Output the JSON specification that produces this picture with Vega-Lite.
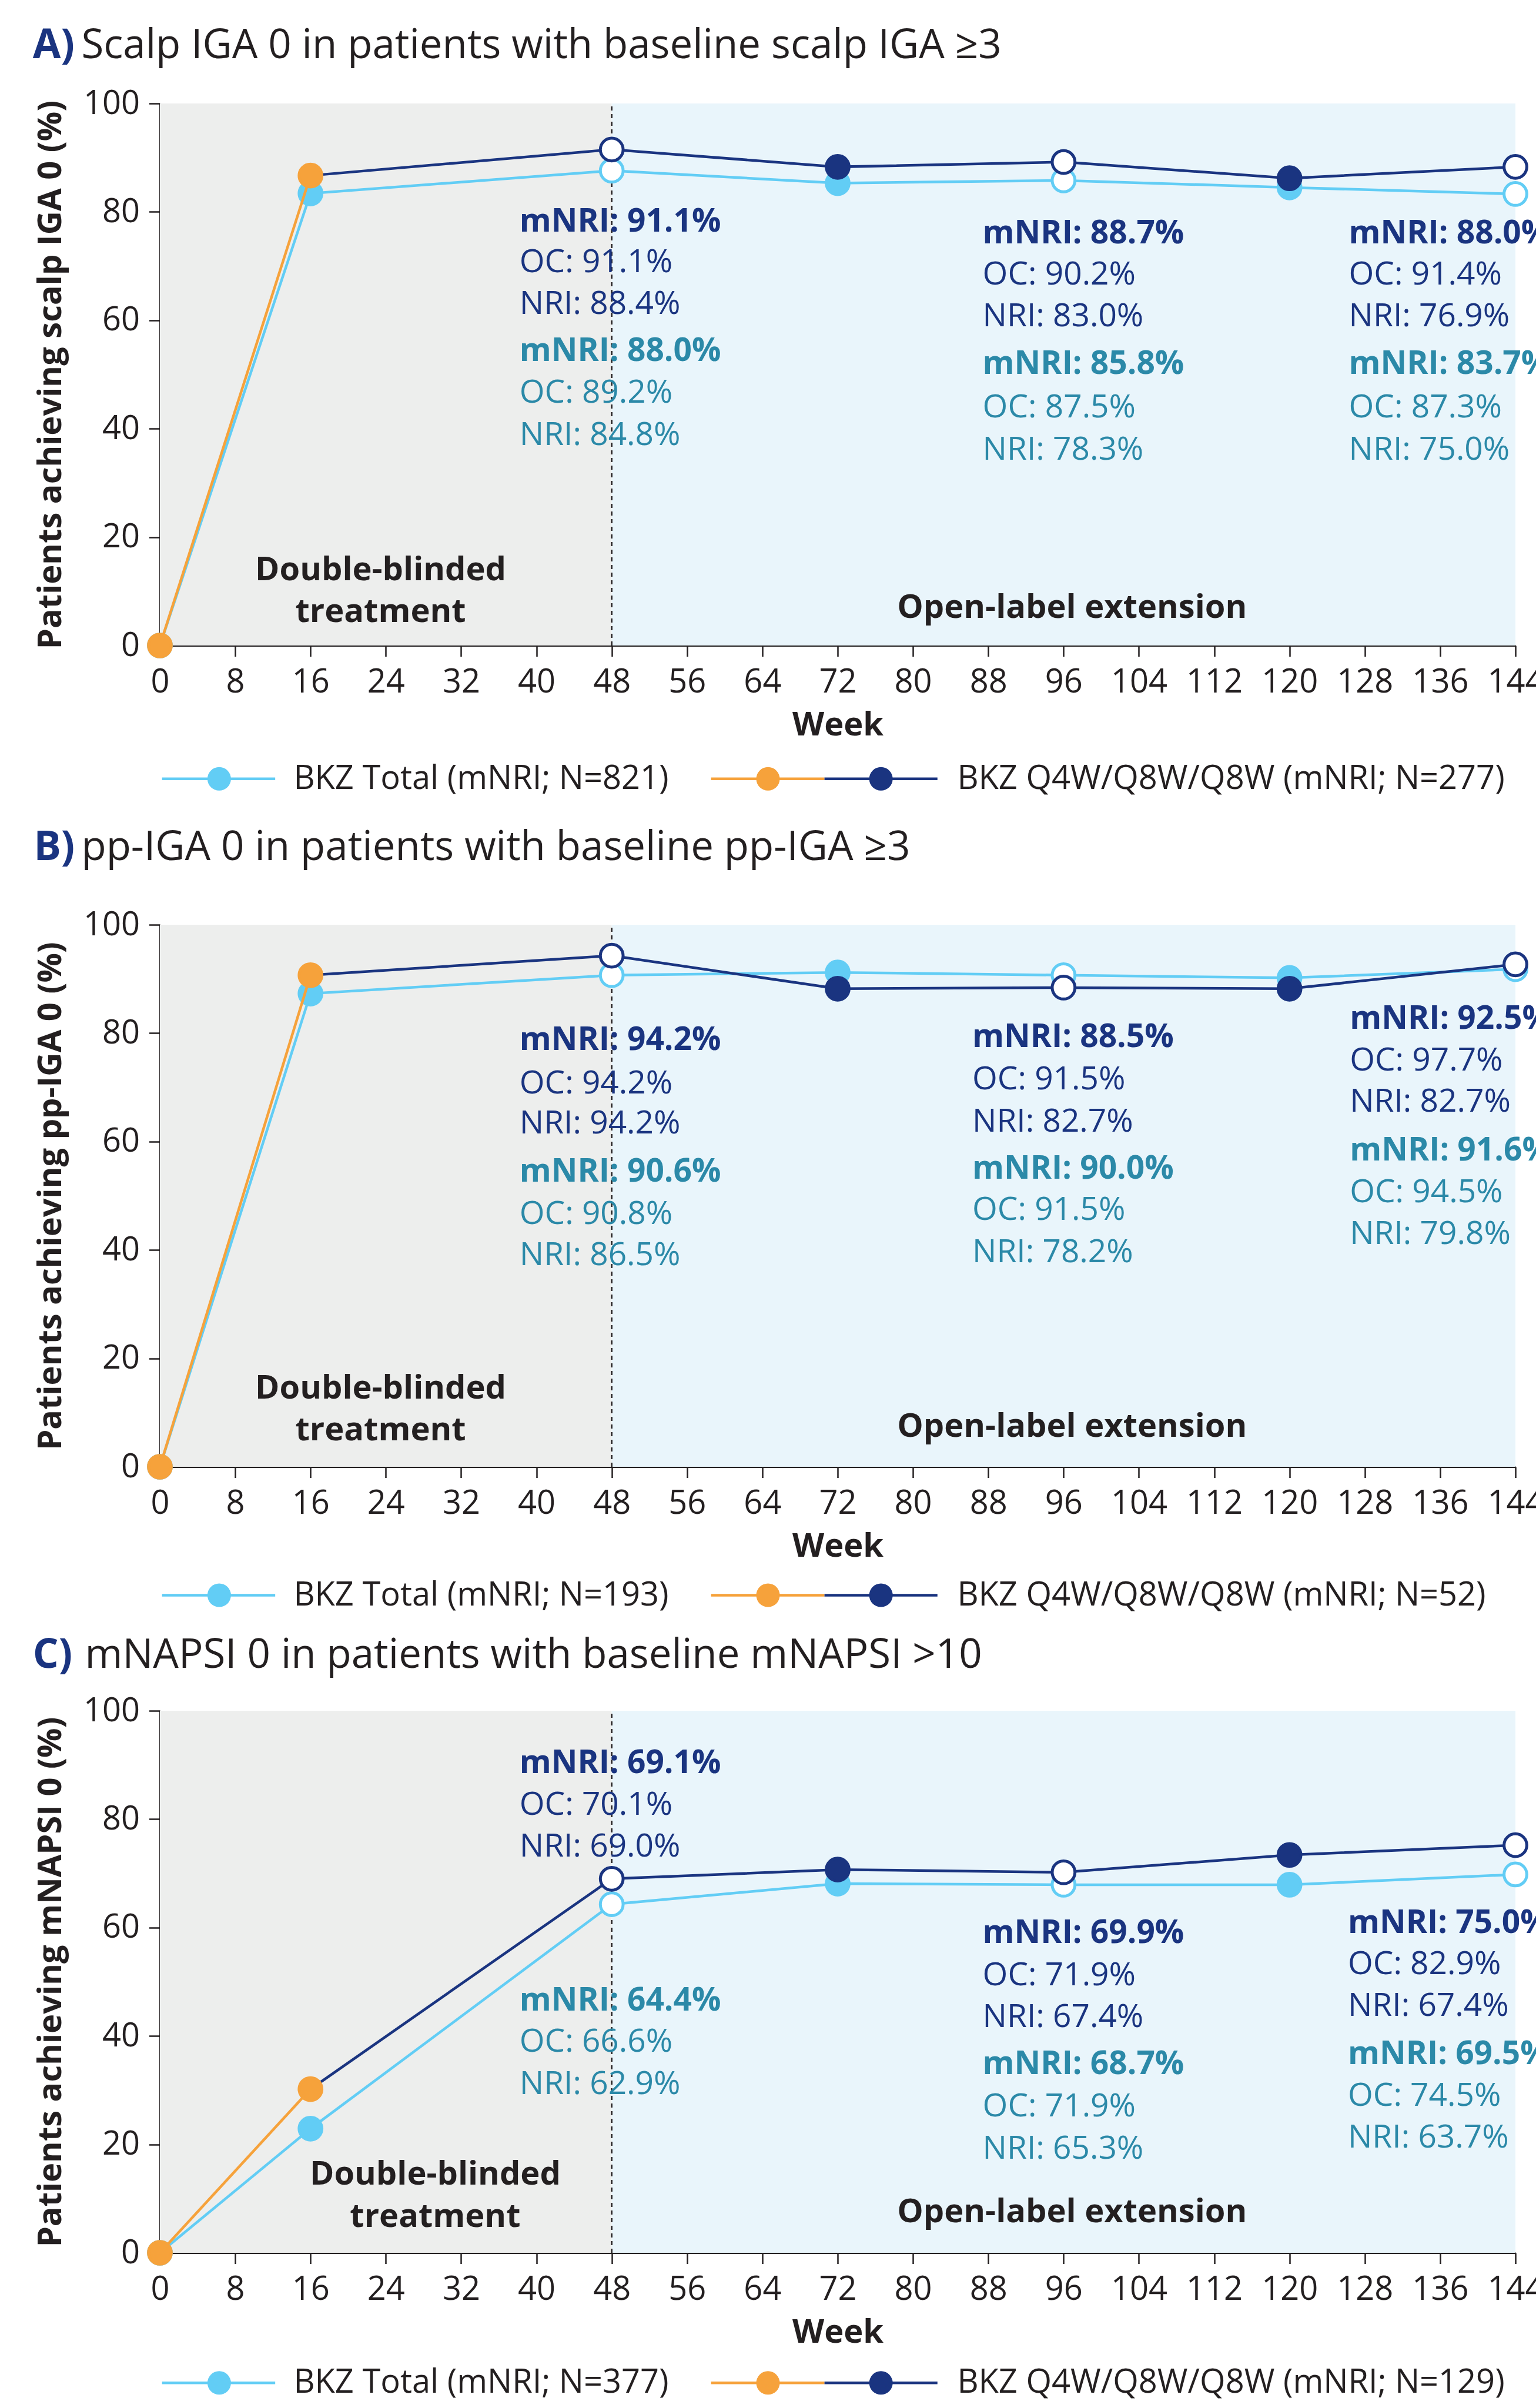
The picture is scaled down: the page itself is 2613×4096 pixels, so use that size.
{
  "$schema": "https://vega.github.io/schema/vega-lite/v6.json",
  "padding": {"left": 55, "top": 44, "right": 0, "bottom": 0},
  "background": "white",
  "bounds": "flush",
  "spacing": 0,
  "config": {
    "view": {"stroke": null},
    "font": "Open Sans",
    "axis": {"domainColor": "#231f20", "domainWidth": 2.8, "tickColor": "#231f20", "tickWidth": 2.5, "tickSize": 18.5, "labelColor": "#231f20", "labelFontSize": 56, "labelFont": "Open Sans", "titleFont": "Open Sans", "titleFontSize": 56, "titleFontWeight": "bold", "titleColor": "#231f20", "grid": false, "zindex": 1, "labelFlush": false, "labelOverlap": false, "labelBound": false},
    "axisX": {"labelPadding": 17, "titlePadding": 18, "labelAngle": 0},
    "axisY": {"labelPadding": 16, "titlePadding": 26}
  },
  "datasets": {
    "series": [
      {"panel": "A", "grp": "Total", "week": 0, "pct": 0, "status": "plain"},
      {"panel": "A", "grp": "Total", "week": 16, "pct": 83.4, "status": "plain"},
      {"panel": "A", "grp": "Total", "week": 48, "pct": 87.6, "status": "annotated"},
      {"panel": "A", "grp": "Total", "week": 72, "pct": 85.3, "status": "plain"},
      {"panel": "A", "grp": "Total", "week": 96, "pct": 85.8, "status": "annotated"},
      {"panel": "A", "grp": "Total", "week": 120, "pct": 84.5, "status": "plain"},
      {"panel": "A", "grp": "Total", "week": 144, "pct": 83.3, "status": "annotated"},
      {"panel": "A", "grp": "Q4W", "week": 0, "pct": 0, "status": "double-blind"},
      {"panel": "A", "grp": "Q4W", "week": 16, "pct": 86.7, "status": "double-blind"},
      {"panel": "A", "grp": "Q4W", "week": 48, "pct": 91.5, "status": "annotated"},
      {"panel": "A", "grp": "Q4W", "week": 72, "pct": 88.3, "status": "plain"},
      {"panel": "A", "grp": "Q4W", "week": 96, "pct": 89.2, "status": "annotated"},
      {"panel": "A", "grp": "Q4W", "week": 120, "pct": 86.2, "status": "plain"},
      {"panel": "A", "grp": "Q4W", "week": 144, "pct": 88.3, "status": "annotated"},
      {"panel": "B", "grp": "Total", "week": 0, "pct": 0, "status": "plain"},
      {"panel": "B", "grp": "Total", "week": 16, "pct": 87.3, "status": "plain"},
      {"panel": "B", "grp": "Total", "week": 48, "pct": 90.7, "status": "annotated"},
      {"panel": "B", "grp": "Total", "week": 72, "pct": 91.2, "status": "plain"},
      {"panel": "B", "grp": "Total", "week": 96, "pct": 90.7, "status": "annotated"},
      {"panel": "B", "grp": "Total", "week": 120, "pct": 90.2, "status": "plain"},
      {"panel": "B", "grp": "Total", "week": 144, "pct": 91.8, "status": "annotated"},
      {"panel": "B", "grp": "Q4W", "week": 0, "pct": 0, "status": "double-blind"},
      {"panel": "B", "grp": "Q4W", "week": 16, "pct": 90.7, "status": "double-blind"},
      {"panel": "B", "grp": "Q4W", "week": 48, "pct": 94.3, "status": "annotated"},
      {"panel": "B", "grp": "Q4W", "week": 72, "pct": 88.2, "status": "plain"},
      {"panel": "B", "grp": "Q4W", "week": 96, "pct": 88.4, "status": "annotated"},
      {"panel": "B", "grp": "Q4W", "week": 120, "pct": 88.2, "status": "plain"},
      {"panel": "B", "grp": "Q4W", "week": 144, "pct": 92.7, "status": "annotated"},
      {"panel": "C", "grp": "Total", "week": 0, "pct": 0, "status": "plain"},
      {"panel": "C", "grp": "Total", "week": 16, "pct": 22.9, "status": "plain"},
      {"panel": "C", "grp": "Total", "week": 48, "pct": 64.3, "status": "annotated"},
      {"panel": "C", "grp": "Total", "week": 72, "pct": 68.1, "status": "plain"},
      {"panel": "C", "grp": "Total", "week": 96, "pct": 67.9, "status": "annotated"},
      {"panel": "C", "grp": "Total", "week": 120, "pct": 67.9, "status": "plain"},
      {"panel": "C", "grp": "Total", "week": 144, "pct": 69.8, "status": "annotated"},
      {"panel": "C", "grp": "Q4W", "week": 0, "pct": 0, "status": "double-blind"},
      {"panel": "C", "grp": "Q4W", "week": 16, "pct": 30.2, "status": "double-blind"},
      {"panel": "C", "grp": "Q4W", "week": 48, "pct": 69.0, "status": "annotated"},
      {"panel": "C", "grp": "Q4W", "week": 72, "pct": 70.7, "status": "plain"},
      {"panel": "C", "grp": "Q4W", "week": 96, "pct": 70.2, "status": "annotated"},
      {"panel": "C", "grp": "Q4W", "week": 120, "pct": 73.4, "status": "plain"},
      {"panel": "C", "grp": "Q4W", "week": 144, "pct": 75.2, "status": "annotated"}
    ],
    "phases": [
      {"start": 0, "end": 48, "phase": "Double-blinded treatment"},
      {"start": 48, "end": 144, "phase": "Open-label extension"}
    ],
    "notes": [
      {"panel": "A", "grp": "Q4W", "kind": "mNRI", "text": "mNRI: 91.1%", "labelWeek": 38.2, "labelPct": 78.2},
      {"panel": "A", "grp": "Q4W", "kind": "OC", "text": "OC: 91.1%", "labelWeek": 38.2, "labelPct": 70.7},
      {"panel": "A", "grp": "Q4W", "kind": "NRI", "text": "NRI: 88.4%", "labelWeek": 38.2, "labelPct": 63.0},
      {"panel": "A", "grp": "Total", "kind": "mNRI", "text": "mNRI: 88.0%", "labelWeek": 38.2, "labelPct": 54.3},
      {"panel": "A", "grp": "Total", "kind": "OC", "text": "OC: 89.2%", "labelWeek": 38.2, "labelPct": 46.6},
      {"panel": "A", "grp": "Total", "kind": "NRI", "text": "NRI: 84.8%", "labelWeek": 38.2, "labelPct": 38.8},
      {"panel": "A", "grp": "Q4W", "kind": "mNRI", "text": "mNRI: 88.7%", "labelWeek": 87.4, "labelPct": 76.0},
      {"panel": "A", "grp": "Q4W", "kind": "OC", "text": "OC: 90.2%", "labelWeek": 87.4, "labelPct": 68.4},
      {"panel": "A", "grp": "Q4W", "kind": "NRI", "text": "NRI: 83.0%", "labelWeek": 87.4, "labelPct": 60.7},
      {"panel": "A", "grp": "Total", "kind": "mNRI", "text": "mNRI: 85.8%", "labelWeek": 87.4, "labelPct": 51.9},
      {"panel": "A", "grp": "Total", "kind": "OC", "text": "OC: 87.5%", "labelWeek": 87.4, "labelPct": 43.9},
      {"panel": "A", "grp": "Total", "kind": "NRI", "text": "NRI: 78.3%", "labelWeek": 87.4, "labelPct": 36.1},
      {"panel": "A", "grp": "Q4W", "kind": "mNRI", "text": "mNRI: 88.0%", "labelWeek": 126.3, "labelPct": 76.0},
      {"panel": "A", "grp": "Q4W", "kind": "OC", "text": "OC: 91.4%", "labelWeek": 126.3, "labelPct": 68.4},
      {"panel": "A", "grp": "Q4W", "kind": "NRI", "text": "NRI: 76.9%", "labelWeek": 126.3, "labelPct": 60.7},
      {"panel": "A", "grp": "Total", "kind": "mNRI", "text": "mNRI: 83.7%", "labelWeek": 126.3, "labelPct": 51.9},
      {"panel": "A", "grp": "Total", "kind": "OC", "text": "OC: 87.3%", "labelWeek": 126.3, "labelPct": 43.9},
      {"panel": "A", "grp": "Total", "kind": "NRI", "text": "NRI: 75.0%", "labelWeek": 126.3, "labelPct": 36.1},
      {"panel": "B", "grp": "Q4W", "kind": "mNRI", "text": "mNRI: 94.2%", "labelWeek": 38.2, "labelPct": 78.7},
      {"panel": "B", "grp": "Q4W", "kind": "OC", "text": "OC: 94.2%", "labelWeek": 38.2, "labelPct": 70.7},
      {"panel": "B", "grp": "Q4W", "kind": "NRI", "text": "NRI: 94.2%", "labelWeek": 38.2, "labelPct": 63.3},
      {"panel": "B", "grp": "Total", "kind": "mNRI", "text": "mNRI: 90.6%", "labelWeek": 38.2, "labelPct": 54.4},
      {"panel": "B", "grp": "Total", "kind": "OC", "text": "OC: 90.8%", "labelWeek": 38.2, "labelPct": 46.6},
      {"panel": "B", "grp": "Total", "kind": "NRI", "text": "NRI: 86.5%", "labelWeek": 38.2, "labelPct": 39.0},
      {"panel": "B", "grp": "Q4W", "kind": "mNRI", "text": "mNRI: 88.5%", "labelWeek": 86.3, "labelPct": 79.3},
      {"panel": "B", "grp": "Q4W", "kind": "OC", "text": "OC: 91.5%", "labelWeek": 86.3, "labelPct": 71.5},
      {"panel": "B", "grp": "Q4W", "kind": "NRI", "text": "NRI: 82.7%", "labelWeek": 86.3, "labelPct": 63.7},
      {"panel": "B", "grp": "Total", "kind": "mNRI", "text": "mNRI: 90.0%", "labelWeek": 86.3, "labelPct": 55.0},
      {"panel": "B", "grp": "Total", "kind": "OC", "text": "OC: 91.5%", "labelWeek": 86.3, "labelPct": 47.4},
      {"panel": "B", "grp": "Total", "kind": "NRI", "text": "NRI: 78.2%", "labelWeek": 86.3, "labelPct": 39.6},
      {"panel": "B", "grp": "Q4W", "kind": "mNRI", "text": "mNRI: 92.5%", "labelWeek": 126.4, "labelPct": 82.7},
      {"panel": "B", "grp": "Q4W", "kind": "OC", "text": "OC: 97.7%", "labelWeek": 126.4, "labelPct": 74.9},
      {"panel": "B", "grp": "Q4W", "kind": "NRI", "text": "NRI: 82.7%", "labelWeek": 126.4, "labelPct": 67.3},
      {"panel": "B", "grp": "Total", "kind": "mNRI", "text": "mNRI: 91.6%", "labelWeek": 126.4, "labelPct": 58.4},
      {"panel": "B", "grp": "Total", "kind": "OC", "text": "OC: 94.5%", "labelWeek": 126.4, "labelPct": 50.7},
      {"panel": "B", "grp": "Total", "kind": "NRI", "text": "NRI: 79.8%", "labelWeek": 126.4, "labelPct": 43.0},
      {"panel": "C", "grp": "Q4W", "kind": "mNRI", "text": "mNRI: 69.1%", "labelWeek": 38.2, "labelPct": 90.3},
      {"panel": "C", "grp": "Q4W", "kind": "OC", "text": "OC: 70.1%", "labelWeek": 38.2, "labelPct": 82.6},
      {"panel": "C", "grp": "Q4W", "kind": "NRI", "text": "NRI: 69.0%", "labelWeek": 38.2, "labelPct": 74.9},
      {"panel": "C", "grp": "Total", "kind": "mNRI", "text": "mNRI: 64.4%", "labelWeek": 38.2, "labelPct": 46.5},
      {"panel": "C", "grp": "Total", "kind": "OC", "text": "OC: 66.6%", "labelWeek": 38.2, "labelPct": 38.9},
      {"panel": "C", "grp": "Total", "kind": "NRI", "text": "NRI: 62.9%", "labelWeek": 38.2, "labelPct": 31.1},
      {"panel": "C", "grp": "Q4W", "kind": "mNRI", "text": "mNRI: 69.9%", "labelWeek": 87.4, "labelPct": 59.0},
      {"panel": "C", "grp": "Q4W", "kind": "OC", "text": "OC: 71.9%", "labelWeek": 87.4, "labelPct": 51.2},
      {"panel": "C", "grp": "Q4W", "kind": "NRI", "text": "NRI: 67.4%", "labelWeek": 87.4, "labelPct": 43.5},
      {"panel": "C", "grp": "Total", "kind": "mNRI", "text": "mNRI: 68.7%", "labelWeek": 87.4, "labelPct": 34.8},
      {"panel": "C", "grp": "Total", "kind": "OC", "text": "OC: 71.9%", "labelWeek": 87.4, "labelPct": 27.0},
      {"panel": "C", "grp": "Total", "kind": "NRI", "text": "NRI: 65.3%", "labelWeek": 87.4, "labelPct": 19.2},
      {"panel": "C", "grp": "Q4W", "kind": "mNRI", "text": "mNRI: 75.0%", "labelWeek": 126.2, "labelPct": 60.9},
      {"panel": "C", "grp": "Q4W", "kind": "OC", "text": "OC: 82.9%", "labelWeek": 126.2, "labelPct": 53.2},
      {"panel": "C", "grp": "Q4W", "kind": "NRI", "text": "NRI: 67.4%", "labelWeek": 126.2, "labelPct": 45.5},
      {"panel": "C", "grp": "Total", "kind": "mNRI", "text": "mNRI: 69.5%", "labelWeek": 126.2, "labelPct": 36.7},
      {"panel": "C", "grp": "Total", "kind": "OC", "text": "OC: 74.5%", "labelWeek": 126.2, "labelPct": 29.0},
      {"panel": "C", "grp": "Total", "kind": "NRI", "text": "NRI: 63.7%", "labelWeek": 126.2, "labelPct": 21.3}
    ],
    "phaseLabels": [
      {"panel": "A", "text": "Double-blinded", "labelWeek": 23.45, "labelPct": 13.9},
      {"panel": "A", "text": "treatment", "labelWeek": 23.45, "labelPct": 6.2},
      {"panel": "A", "text": "Open-label extension", "labelWeek": 96.9, "labelPct": 6.9},
      {"panel": "B", "text": "Double-blinded", "labelWeek": 23.45, "labelPct": 14.4},
      {"panel": "B", "text": "treatment", "labelWeek": 23.45, "labelPct": 6.7},
      {"panel": "B", "text": "Open-label extension", "labelWeek": 96.9, "labelPct": 7.4},
      {"panel": "C", "text": "Double-blinded", "labelWeek": 29.25, "labelPct": 14.4},
      {"panel": "C", "text": "treatment", "labelWeek": 29.25, "labelPct": 6.6},
      {"panel": "C", "text": "Open-label extension", "labelWeek": 96.9, "labelPct": 7.5}
    ],
    "titles": [
      {"panel": "A", "letter": "A)", "heading": "Scalp IGA 0 in patients with baseline scalp IGA ≥3"},
      {"panel": "B", "letter": "B)", "heading": "pp-IGA 0 in patients with baseline pp-IGA ≥3"},
      {"panel": "C", "letter": "C)", "heading": "mNAPSI 0 in patients with baseline mNAPSI >10"}
    ],
    "legend": [
      {"panel": "A", "grp": "Total", "label": "BKZ Total (mNRI; N=821)"},
      {"panel": "A", "grp": "Q4W", "label": "BKZ Q4W/Q8W/Q8W (mNRI; N=277)"},
      {"panel": "B", "grp": "Total", "label": "BKZ Total (mNRI; N=193)"},
      {"panel": "B", "grp": "Q4W", "label": "BKZ Q4W/Q8W/Q8W (mNRI; N=52)"},
      {"panel": "C", "grp": "Total", "label": "BKZ Total (mNRI; N=377)"},
      {"panel": "C", "grp": "Q4W", "label": "BKZ Q4W/Q8W/Q8W (mNRI; N=129)"}
    ]
  },
  "vconcat": [
    {
      "width": 2306, "height": 922,
      "layer": [
        {"data": {"name": "phases"}, "mark": {"type": "rect"},
         "encoding": {"x": {"field": "start", "type": "quantitative"}, "x2": {"field": "end"}, "y": {"datum": 0}, "y2": {"datum": 100},
          "fill": {"condition": {"test": "datum.phase === 'Double-blinded treatment'", "value": "#edeeed"}, "value": "#e9f5fb"}}},
        {"data": {"name": "phases"}, "transform": [{"filter": "datum.phase === 'Open-label extension'"}], "mark": {"type": "rule", "color": "#231f20", "strokeWidth": 2.5, "strokeDash": [7, 6]},
         "encoding": {"x": {"field": "start", "type": "quantitative"}, "y": {"datum": 0}, "y2": {"datum": 100}}},
        {"data": {"name": "series"}, "transform": [{"filter": "datum.panel === 'A' && datum.grp === 'Total'"}], "mark": {"type": "line", "color": "#62cdf5", "strokeWidth": 4.5},
         "encoding": {
           "x": {"field": "week", "type": "quantitative", "scale": {"domain": [0, 144], "nice": false, "zero": false}, "axis": {"title": "Week", "values": [0, 8, 16, 24, 32, 40, 48, 56, 64, 72, 80, 88, 96, 104, 112, 120, 128, 136, 144]}},
           "y": {"field": "pct", "type": "quantitative", "scale": {"domain": [0, 100], "nice": false}, "axis": {"title": "Patients achieving scalp IGA 0 (%)", "values": [0, 20, 40, 60, 80, 100]}},
           "order": {"field": "week"}}},
        {"data": {"name": "series"}, "transform": [{"filter": "datum.panel === 'A' && datum.grp === 'Total'"}], "mark": {"type": "point", "shape": "circle", "filled": true, "size": 1500, "strokeWidth": 5, "opacity": 1},
         "encoding": {"x": {"field": "week", "type": "quantitative"}, "y": {"field": "pct", "type": "quantitative"},
          "fill": {"condition": {"test": "datum.status === 'annotated'", "value": "#ffffff"}, "value": "#62cdf5"}, "stroke": {"value": "#62cdf5"}}},
        {"data": {"name": "series"}, "transform": [{"filter": "datum.panel === 'A' && datum.grp === 'Q4W' && datum.week <= 16"}], "mark": {"type": "line", "color": "#f6a23b", "strokeWidth": 4.5},
         "encoding": {"x": {"field": "week", "type": "quantitative"}, "y": {"field": "pct", "type": "quantitative"}, "order": {"field": "week"}}},
        {"data": {"name": "series"}, "transform": [{"filter": "datum.panel === 'A' && datum.grp === 'Q4W' && datum.week >= 16"}], "mark": {"type": "line", "color": "#1a3480", "strokeWidth": 4.5},
         "encoding": {"x": {"field": "week", "type": "quantitative"}, "y": {"field": "pct", "type": "quantitative"}, "order": {"field": "week"}}},
        {"data": {"name": "series"}, "transform": [{"filter": "datum.panel === 'A' && datum.grp === 'Q4W'"}], "mark": {"type": "point", "shape": "circle", "filled": true, "size": 1500, "strokeWidth": 5, "opacity": 1},
         "encoding": {"x": {"field": "week", "type": "quantitative"}, "y": {"field": "pct", "type": "quantitative"},
          "fill": {"condition": [{"test": "datum.status === 'annotated'", "value": "#ffffff"}, {"test": "datum.status === 'double-blind'", "value": "#f6a23b"}], "value": "#1a3480"},
          "stroke": {"condition": {"test": "datum.status === 'double-blind'", "value": "#f6a23b"}, "value": "#1a3480"}}},
        {"data": {"name": "notes"}, "transform": [{"filter": "datum.panel === 'A' && datum.kind === 'mNRI'"}], "mark": {"type": "text", "align": "left", "baseline": "middle", "fontSize": 55, "fontWeight": "bold"},
         "encoding": {"x": {"field": "labelWeek", "type": "quantitative"}, "y": {"field": "labelPct", "type": "quantitative"}, "text": {"field": "text"},
          "color": {"condition": {"test": "datum.grp === 'Q4W'", "value": "#1a3480"}, "value": "#2b89a8"}}},
        {"data": {"name": "notes"}, "transform": [{"filter": "datum.panel === 'A' && datum.kind !== 'mNRI'"}], "mark": {"type": "text", "align": "left", "baseline": "middle", "fontSize": 55},
         "encoding": {"x": {"field": "labelWeek", "type": "quantitative"}, "y": {"field": "labelPct", "type": "quantitative"}, "text": {"field": "text"},
          "color": {"condition": {"test": "datum.grp === 'Q4W'", "value": "#1a3480"}, "value": "#2b89a8"}}},
        {"data": {"name": "phaseLabels"}, "transform": [{"filter": "datum.panel === 'A'"}], "mark": {"type": "text", "align": "center", "baseline": "middle", "fontSize": 56, "fontWeight": "bold", "color": "#231f20"},
         "encoding": {"x": {"field": "labelWeek", "type": "quantitative"}, "y": {"field": "labelPct", "type": "quantitative"}, "text": {"field": "text"}}},
        {"data": {"name": "titles"}, "transform": [{"filter": "datum.panel === 'A'"}], "mark": {"type": "text", "align": "left", "baseline": "middle", "fontSize": 69, "fontWeight": "bold", "color": "#1a3480"},
         "encoding": {"x": {"datum": -13.5}, "y": {"datum": 110.6}, "text": {"field": "letter"}}},
        {"data": {"name": "titles"}, "transform": [{"filter": "datum.panel === 'A'"}], "mark": {"type": "text", "align": "left", "baseline": "middle", "fontSize": 69, "color": "#231f20"},
         "encoding": {"x": {"datum": -8.34}, "y": {"datum": 110.6}, "text": {"field": "heading"}}},
        {"data": {"name": "legend"}, "transform": [{"filter": "datum.panel === 'A' && datum.grp === 'Total'"}], "mark": {"type": "rule", "color": "#62cdf5", "strokeWidth": 4.5},
         "encoding": {"x": {"datum": 0.23}, "x2": {"datum": 12.25}, "y": {"datum": -24.6}}},
        {"data": {"name": "legend"}, "transform": [{"filter": "datum.panel === 'A' && datum.grp === 'Total'"}], "mark": {"type": "point", "shape": "circle", "filled": true, "size": 1600, "color": "#62cdf5", "opacity": 1},
         "encoding": {"x": {"datum": 6.3}, "y": {"datum": -24.6}}},
        {"data": {"name": "legend"}, "transform": [{"filter": "datum.panel === 'A' && datum.grp === 'Total'"}], "mark": {"type": "text", "align": "left", "baseline": "middle", "fontSize": 56, "color": "#231f20"},
         "encoding": {"x": {"datum": 14.2}, "y": {"datum": -24.6}, "text": {"field": "label"}}},
        {"data": {"name": "legend"}, "transform": [{"filter": "datum.panel === 'A' && datum.grp === 'Q4W'"}], "mark": {"type": "rule", "color": "#f6a23b", "strokeWidth": 4.5},
         "encoding": {"x": {"datum": 58.55}, "x2": {"datum": 70.6}, "y": {"datum": -24.6}}},
        {"data": {"name": "legend"}, "transform": [{"filter": "datum.panel === 'A' && datum.grp === 'Q4W'"}], "mark": {"type": "rule", "color": "#1a3480", "strokeWidth": 4.5},
         "encoding": {"x": {"datum": 70.6}, "x2": {"datum": 82.6}, "y": {"datum": -24.6}}},
        {"data": {"name": "legend"}, "transform": [{"filter": "datum.panel === 'A' && datum.grp === 'Q4W'"}], "mark": {"type": "point", "shape": "circle", "filled": true, "size": 1600, "color": "#f6a23b", "opacity": 1},
         "encoding": {"x": {"datum": 64.6}, "y": {"datum": -24.6}}},
        {"data": {"name": "legend"}, "transform": [{"filter": "datum.panel === 'A' && datum.grp === 'Q4W'"}], "mark": {"type": "point", "shape": "circle", "filled": true, "size": 1600, "color": "#1a3480", "opacity": 1},
         "encoding": {"x": {"datum": 76.6}, "y": {"datum": -24.6}}},
        {"data": {"name": "legend"}, "transform": [{"filter": "datum.panel === 'A' && datum.grp === 'Q4W'"}], "mark": {"type": "text", "align": "left", "baseline": "middle", "fontSize": 56, "color": "#231f20"},
         "encoding": {"x": {"datum": 84.7}, "y": {"datum": -24.6}, "text": {"field": "label"}}}
      ]
    },
    {"width": 2306, "height": 475, "data": {"values": []}, "mark": "point"},
    {
      "width": 2306, "height": 922,
      "layer": [
        {"data": {"name": "phases"}, "mark": {"type": "rect"},
         "encoding": {"x": {"field": "start", "type": "quantitative"}, "x2": {"field": "end"}, "y": {"datum": 0}, "y2": {"datum": 100},
          "fill": {"condition": {"test": "datum.phase === 'Double-blinded treatment'", "value": "#edeeed"}, "value": "#e9f5fb"}}},
        {"data": {"name": "phases"}, "transform": [{"filter": "datum.phase === 'Open-label extension'"}], "mark": {"type": "rule", "color": "#231f20", "strokeWidth": 2.5, "strokeDash": [7, 6]},
         "encoding": {"x": {"field": "start", "type": "quantitative"}, "y": {"datum": 0}, "y2": {"datum": 100}}},
        {"data": {"name": "series"}, "transform": [{"filter": "datum.panel === 'B' && datum.grp === 'Total'"}], "mark": {"type": "line", "color": "#62cdf5", "strokeWidth": 4.5},
         "encoding": {
           "x": {"field": "week", "type": "quantitative", "scale": {"domain": [0, 144], "nice": false, "zero": false}, "axis": {"title": "Week", "values": [0, 8, 16, 24, 32, 40, 48, 56, 64, 72, 80, 88, 96, 104, 112, 120, 128, 136, 144]}},
           "y": {"field": "pct", "type": "quantitative", "scale": {"domain": [0, 100], "nice": false}, "axis": {"title": "Patients achieving pp-IGA 0 (%)", "values": [0, 20, 40, 60, 80, 100]}},
           "order": {"field": "week"}}},
        {"data": {"name": "series"}, "transform": [{"filter": "datum.panel === 'B' && datum.grp === 'Total'"}], "mark": {"type": "point", "shape": "circle", "filled": true, "size": 1500, "strokeWidth": 5, "opacity": 1},
         "encoding": {"x": {"field": "week", "type": "quantitative"}, "y": {"field": "pct", "type": "quantitative"},
          "fill": {"condition": {"test": "datum.status === 'annotated'", "value": "#ffffff"}, "value": "#62cdf5"}, "stroke": {"value": "#62cdf5"}}},
        {"data": {"name": "series"}, "transform": [{"filter": "datum.panel === 'B' && datum.grp === 'Q4W' && datum.week <= 16"}], "mark": {"type": "line", "color": "#f6a23b", "strokeWidth": 4.5},
         "encoding": {"x": {"field": "week", "type": "quantitative"}, "y": {"field": "pct", "type": "quantitative"}, "order": {"field": "week"}}},
        {"data": {"name": "series"}, "transform": [{"filter": "datum.panel === 'B' && datum.grp === 'Q4W' && datum.week >= 16"}], "mark": {"type": "line", "color": "#1a3480", "strokeWidth": 4.5},
         "encoding": {"x": {"field": "week", "type": "quantitative"}, "y": {"field": "pct", "type": "quantitative"}, "order": {"field": "week"}}},
        {"data": {"name": "series"}, "transform": [{"filter": "datum.panel === 'B' && datum.grp === 'Q4W'"}], "mark": {"type": "point", "shape": "circle", "filled": true, "size": 1500, "strokeWidth": 5, "opacity": 1},
         "encoding": {"x": {"field": "week", "type": "quantitative"}, "y": {"field": "pct", "type": "quantitative"},
          "fill": {"condition": [{"test": "datum.status === 'annotated'", "value": "#ffffff"}, {"test": "datum.status === 'double-blind'", "value": "#f6a23b"}], "value": "#1a3480"},
          "stroke": {"condition": {"test": "datum.status === 'double-blind'", "value": "#f6a23b"}, "value": "#1a3480"}}},
        {"data": {"name": "notes"}, "transform": [{"filter": "datum.panel === 'B' && datum.kind === 'mNRI'"}], "mark": {"type": "text", "align": "left", "baseline": "middle", "fontSize": 55, "fontWeight": "bold"},
         "encoding": {"x": {"field": "labelWeek", "type": "quantitative"}, "y": {"field": "labelPct", "type": "quantitative"}, "text": {"field": "text"},
          "color": {"condition": {"test": "datum.grp === 'Q4W'", "value": "#1a3480"}, "value": "#2b89a8"}}},
        {"data": {"name": "notes"}, "transform": [{"filter": "datum.panel === 'B' && datum.kind !== 'mNRI'"}], "mark": {"type": "text", "align": "left", "baseline": "middle", "fontSize": 55},
         "encoding": {"x": {"field": "labelWeek", "type": "quantitative"}, "y": {"field": "labelPct", "type": "quantitative"}, "text": {"field": "text"},
          "color": {"condition": {"test": "datum.grp === 'Q4W'", "value": "#1a3480"}, "value": "#2b89a8"}}},
        {"data": {"name": "phaseLabels"}, "transform": [{"filter": "datum.panel === 'B'"}], "mark": {"type": "text", "align": "center", "baseline": "middle", "fontSize": 56, "fontWeight": "bold", "color": "#231f20"},
         "encoding": {"x": {"field": "labelWeek", "type": "quantitative"}, "y": {"field": "labelPct", "type": "quantitative"}, "text": {"field": "text"}}},
        {"data": {"name": "titles"}, "transform": [{"filter": "datum.panel === 'B'"}], "mark": {"type": "text", "align": "left", "baseline": "middle", "fontSize": 69, "fontWeight": "bold", "color": "#1a3480"},
         "encoding": {"x": {"datum": -13.4}, "y": {"datum": 114.2}, "text": {"field": "letter"}}},
        {"data": {"name": "titles"}, "transform": [{"filter": "datum.panel === 'B'"}], "mark": {"type": "text", "align": "left", "baseline": "middle", "fontSize": 69, "color": "#231f20"},
         "encoding": {"x": {"datum": -8.34}, "y": {"datum": 114.2}, "text": {"field": "heading"}}},
        {"data": {"name": "legend"}, "transform": [{"filter": "datum.panel === 'B' && datum.grp === 'Total'"}], "mark": {"type": "rule", "color": "#62cdf5", "strokeWidth": 4.5},
         "encoding": {"x": {"datum": 0.23}, "x2": {"datum": 12.25}, "y": {"datum": -23.7}}},
        {"data": {"name": "legend"}, "transform": [{"filter": "datum.panel === 'B' && datum.grp === 'Total'"}], "mark": {"type": "point", "shape": "circle", "filled": true, "size": 1600, "color": "#62cdf5", "opacity": 1},
         "encoding": {"x": {"datum": 6.3}, "y": {"datum": -23.7}}},
        {"data": {"name": "legend"}, "transform": [{"filter": "datum.panel === 'B' && datum.grp === 'Total'"}], "mark": {"type": "text", "align": "left", "baseline": "middle", "fontSize": 56, "color": "#231f20"},
         "encoding": {"x": {"datum": 14.2}, "y": {"datum": -23.7}, "text": {"field": "label"}}},
        {"data": {"name": "legend"}, "transform": [{"filter": "datum.panel === 'B' && datum.grp === 'Q4W'"}], "mark": {"type": "rule", "color": "#f6a23b", "strokeWidth": 4.5},
         "encoding": {"x": {"datum": 58.55}, "x2": {"datum": 70.6}, "y": {"datum": -23.7}}},
        {"data": {"name": "legend"}, "transform": [{"filter": "datum.panel === 'B' && datum.grp === 'Q4W'"}], "mark": {"type": "rule", "color": "#1a3480", "strokeWidth": 4.5},
         "encoding": {"x": {"datum": 70.6}, "x2": {"datum": 82.6}, "y": {"datum": -23.7}}},
        {"data": {"name": "legend"}, "transform": [{"filter": "datum.panel === 'B' && datum.grp === 'Q4W'"}], "mark": {"type": "point", "shape": "circle", "filled": true, "size": 1600, "color": "#f6a23b", "opacity": 1},
         "encoding": {"x": {"datum": 64.6}, "y": {"datum": -23.7}}},
        {"data": {"name": "legend"}, "transform": [{"filter": "datum.panel === 'B' && datum.grp === 'Q4W'"}], "mark": {"type": "point", "shape": "circle", "filled": true, "size": 1600, "color": "#1a3480", "opacity": 1},
         "encoding": {"x": {"datum": 76.6}, "y": {"datum": -23.7}}},
        {"data": {"name": "legend"}, "transform": [{"filter": "datum.panel === 'B' && datum.grp === 'Q4W'"}], "mark": {"type": "text", "align": "left", "baseline": "middle", "fontSize": 56, "color": "#231f20"},
         "encoding": {"x": {"datum": 84.7}, "y": {"datum": -23.7}, "text": {"field": "label"}}}
      ]
    },
    {"width": 2306, "height": 415, "data": {"values": []}, "mark": "point"},
    {
      "width": 2306, "height": 922,
      "layer": [
        {"data": {"name": "phases"}, "mark": {"type": "rect"},
         "encoding": {"x": {"field": "start", "type": "quantitative"}, "x2": {"field": "end"}, "y": {"datum": 0}, "y2": {"datum": 100},
          "fill": {"condition": {"test": "datum.phase === 'Double-blinded treatment'", "value": "#edeeed"}, "value": "#e9f5fb"}}},
        {"data": {"name": "phases"}, "transform": [{"filter": "datum.phase === 'Open-label extension'"}], "mark": {"type": "rule", "color": "#231f20", "strokeWidth": 2.5, "strokeDash": [7, 6]},
         "encoding": {"x": {"field": "start", "type": "quantitative"}, "y": {"datum": 0}, "y2": {"datum": 100}}},
        {"data": {"name": "series"}, "transform": [{"filter": "datum.panel === 'C' && datum.grp === 'Total'"}], "mark": {"type": "line", "color": "#62cdf5", "strokeWidth": 4.5},
         "encoding": {
           "x": {"field": "week", "type": "quantitative", "scale": {"domain": [0, 144], "nice": false, "zero": false}, "axis": {"title": "Week", "values": [0, 8, 16, 24, 32, 40, 48, 56, 64, 72, 80, 88, 96, 104, 112, 120, 128, 136, 144]}},
           "y": {"field": "pct", "type": "quantitative", "scale": {"domain": [0, 100], "nice": false}, "axis": {"title": "Patients achieving mNAPSI 0 (%)", "values": [0, 20, 40, 60, 80, 100]}},
           "order": {"field": "week"}}},
        {"data": {"name": "series"}, "transform": [{"filter": "datum.panel === 'C' && datum.grp === 'Total'"}], "mark": {"type": "point", "shape": "circle", "filled": true, "size": 1500, "strokeWidth": 5, "opacity": 1},
         "encoding": {"x": {"field": "week", "type": "quantitative"}, "y": {"field": "pct", "type": "quantitative"},
          "fill": {"condition": {"test": "datum.status === 'annotated'", "value": "#ffffff"}, "value": "#62cdf5"}, "stroke": {"value": "#62cdf5"}}},
        {"data": {"name": "series"}, "transform": [{"filter": "datum.panel === 'C' && datum.grp === 'Q4W' && datum.week <= 16"}], "mark": {"type": "line", "color": "#f6a23b", "strokeWidth": 4.5},
         "encoding": {"x": {"field": "week", "type": "quantitative"}, "y": {"field": "pct", "type": "quantitative"}, "order": {"field": "week"}}},
        {"data": {"name": "series"}, "transform": [{"filter": "datum.panel === 'C' && datum.grp === 'Q4W' && datum.week >= 16"}], "mark": {"type": "line", "color": "#1a3480", "strokeWidth": 4.5},
         "encoding": {"x": {"field": "week", "type": "quantitative"}, "y": {"field": "pct", "type": "quantitative"}, "order": {"field": "week"}}},
        {"data": {"name": "series"}, "transform": [{"filter": "datum.panel === 'C' && datum.grp === 'Q4W'"}], "mark": {"type": "point", "shape": "circle", "filled": true, "size": 1500, "strokeWidth": 5, "opacity": 1},
         "encoding": {"x": {"field": "week", "type": "quantitative"}, "y": {"field": "pct", "type": "quantitative"},
          "fill": {"condition": [{"test": "datum.status === 'annotated'", "value": "#ffffff"}, {"test": "datum.status === 'double-blind'", "value": "#f6a23b"}], "value": "#1a3480"},
          "stroke": {"condition": {"test": "datum.status === 'double-blind'", "value": "#f6a23b"}, "value": "#1a3480"}}},
        {"data": {"name": "notes"}, "transform": [{"filter": "datum.panel === 'C' && datum.kind === 'mNRI'"}], "mark": {"type": "text", "align": "left", "baseline": "middle", "fontSize": 55, "fontWeight": "bold"},
         "encoding": {"x": {"field": "labelWeek", "type": "quantitative"}, "y": {"field": "labelPct", "type": "quantitative"}, "text": {"field": "text"},
          "color": {"condition": {"test": "datum.grp === 'Q4W'", "value": "#1a3480"}, "value": "#2b89a8"}}},
        {"data": {"name": "notes"}, "transform": [{"filter": "datum.panel === 'C' && datum.kind !== 'mNRI'"}], "mark": {"type": "text", "align": "left", "baseline": "middle", "fontSize": 55},
         "encoding": {"x": {"field": "labelWeek", "type": "quantitative"}, "y": {"field": "labelPct", "type": "quantitative"}, "text": {"field": "text"},
          "color": {"condition": {"test": "datum.grp === 'Q4W'", "value": "#1a3480"}, "value": "#2b89a8"}}},
        {"data": {"name": "phaseLabels"}, "transform": [{"filter": "datum.panel === 'C'"}], "mark": {"type": "text", "align": "center", "baseline": "middle", "fontSize": 56, "fontWeight": "bold", "color": "#231f20"},
         "encoding": {"x": {"field": "labelWeek", "type": "quantitative"}, "y": {"field": "labelPct", "type": "quantitative"}, "text": {"field": "text"}}},
        {"data": {"name": "titles"}, "transform": [{"filter": "datum.panel === 'C'"}], "mark": {"type": "text", "align": "left", "baseline": "middle", "fontSize": 69, "fontWeight": "bold", "color": "#1a3480"},
         "encoding": {"x": {"datum": -13.5}, "y": {"datum": 110.2}, "text": {"field": "letter"}}},
        {"data": {"name": "titles"}, "transform": [{"filter": "datum.panel === 'C'"}], "mark": {"type": "text", "align": "left", "baseline": "middle", "fontSize": 69, "color": "#231f20"},
         "encoding": {"x": {"datum": -7.96}, "y": {"datum": 110.2}, "text": {"field": "heading"}}},
        {"data": {"name": "legend"}, "transform": [{"filter": "datum.panel === 'C' && datum.grp === 'Total'"}], "mark": {"type": "rule", "color": "#62cdf5", "strokeWidth": 4.5},
         "encoding": {"x": {"datum": 0.23}, "x2": {"datum": 12.25}, "y": {"datum": -24.0}}},
        {"data": {"name": "legend"}, "transform": [{"filter": "datum.panel === 'C' && datum.grp === 'Total'"}], "mark": {"type": "point", "shape": "circle", "filled": true, "size": 1600, "color": "#62cdf5", "opacity": 1},
         "encoding": {"x": {"datum": 6.3}, "y": {"datum": -24.0}}},
        {"data": {"name": "legend"}, "transform": [{"filter": "datum.panel === 'C' && datum.grp === 'Total'"}], "mark": {"type": "text", "align": "left", "baseline": "middle", "fontSize": 56, "color": "#231f20"},
         "encoding": {"x": {"datum": 14.2}, "y": {"datum": -24.0}, "text": {"field": "label"}}},
        {"data": {"name": "legend"}, "transform": [{"filter": "datum.panel === 'C' && datum.grp === 'Q4W'"}], "mark": {"type": "rule", "color": "#f6a23b", "strokeWidth": 4.5},
         "encoding": {"x": {"datum": 58.55}, "x2": {"datum": 70.6}, "y": {"datum": -24.0}}},
        {"data": {"name": "legend"}, "transform": [{"filter": "datum.panel === 'C' && datum.grp === 'Q4W'"}], "mark": {"type": "rule", "color": "#1a3480", "strokeWidth": 4.5},
         "encoding": {"x": {"datum": 70.6}, "x2": {"datum": 82.6}, "y": {"datum": -24.0}}},
        {"data": {"name": "legend"}, "transform": [{"filter": "datum.panel === 'C' && datum.grp === 'Q4W'"}], "mark": {"type": "point", "shape": "circle", "filled": true, "size": 1600, "color": "#f6a23b", "opacity": 1},
         "encoding": {"x": {"datum": 64.6}, "y": {"datum": -24.0}}},
        {"data": {"name": "legend"}, "transform": [{"filter": "datum.panel === 'C' && datum.grp === 'Q4W'"}], "mark": {"type": "point", "shape": "circle", "filled": true, "size": 1600, "color": "#1a3480", "opacity": 1},
         "encoding": {"x": {"datum": 76.6}, "y": {"datum": -24.0}}},
        {"data": {"name": "legend"}, "transform": [{"filter": "datum.panel === 'C' && datum.grp === 'Q4W'"}], "mark": {"type": "text", "align": "left", "baseline": "middle", "fontSize": 56, "color": "#231f20"},
         "encoding": {"x": {"datum": 84.7}, "y": {"datum": -24.0}, "text": {"field": "label"}}}
      ]
    }
  ]
}
